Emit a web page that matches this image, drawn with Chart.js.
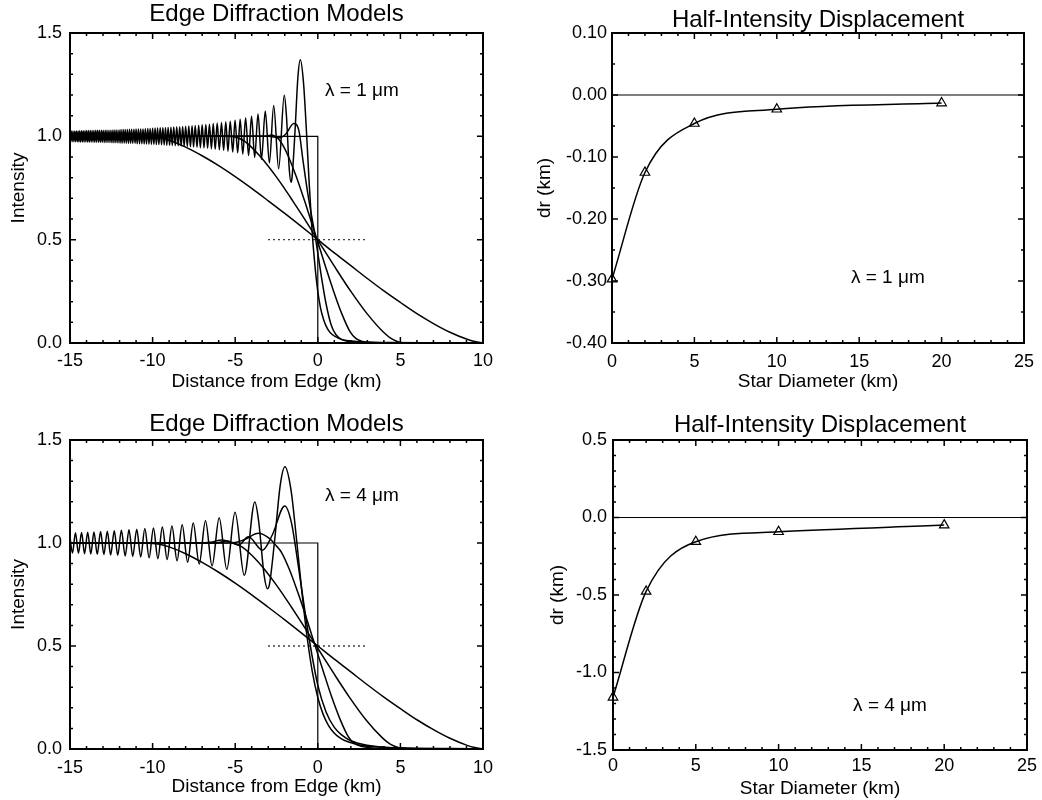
<!DOCTYPE html>
<html>
<head>
<meta charset="utf-8">
<title>Edge Diffraction Models</title>
<script src="https://cdn.jsdelivr.net/npm/chart.js@4.4.0/dist/chart.umd.min.js"></script>
<style>
  body { margin: 0; background: #fff; }
  #wrap { position: relative; width: 1042px; height: 800px; }
  canvas { position: absolute; }
</style>
</head>
<body>
<div id="wrap">
  <canvas id="tl" width="520" height="400" style="left:0;top:0"></canvas>
  <canvas id="tr" width="522" height="400" style="left:520px;top:0"></canvas>
  <canvas id="bl" width="520" height="400" style="left:0;top:400px"></canvas>
  <canvas id="br" width="522" height="400" style="left:520px;top:400px"></canvas>
</div>
<script>
// ---- tick labels ----
var edgeTicks = ['-15', '-10', '-5', '0', '5', '10'];
var intensityTicks = ['0.0', '0.5', '1.0', '1.5'];
var diamTicks = ['0', '5', '10', '15', '20', '25'];
var dr1Ticks = ['-0.40', '-0.30', '-0.20', '-0.10', '0.00', '0.10'];
var dr4Ticks = ['-1.5', '-1.0', '-0.5', '0.0', '0.5'];

// ---- half-intensity displacement (right panels) ----
var starDiam = [0, 2, 5, 10, 20];
var dr1um = [-0.297, -0.125, -0.046, -0.023, -0.013];
var dr4um = [-1.16, -0.477, -0.156, -0.092, -0.049];
var zeroLine = [[0, 0], [25, 0]];

// ---- edge profiles, [distance km, intensity] ----
var geoStep = [[-15, 1], [0, 1], [0, 0], [10, 0]];
var halfLevel = [[-3, 0.5], [3, 0.5]];

// lambda = 1 um, point source
var point1um = [
  [-15.02,1.026],[-14.97,0.974],[-14.92,1.026],[-14.87,0.974],[-14.82,1.026],[-14.76,0.974],[-14.71,1.026],[-14.66,0.974],
  [-14.61,1.026],[-14.56,0.974],[-14.51,1.026],[-14.46,0.973],[-14.41,1.027],[-14.36,0.973],[-14.30,1.027],[-14.25,0.973],
  [-14.20,1.027],[-14.15,0.973],[-14.09,1.027],[-14.04,0.973],[-13.99,1.028],[-13.93,0.972],[-13.88,1.028],[-13.83,0.972],
  [-13.77,1.028],[-13.72,0.972],[-13.66,1.028],[-13.61,0.972],[-13.55,1.028],[-13.50,0.971],[-13.44,1.029],[-13.39,0.971],
  [-13.33,1.029],[-13.27,0.971],[-13.22,1.029],[-13.16,0.971],[-13.10,1.029],[-13.05,0.971],[-12.99,1.030],[-12.93,0.970],
  [-12.87,1.030],[-12.82,0.970],[-12.76,1.030],[-12.70,0.970],[-12.64,1.030],[-12.58,0.970],[-12.52,1.030],[-12.46,0.969],
  [-12.40,1.031],[-12.34,0.969],[-12.28,1.031],[-12.22,0.969],[-12.16,1.031],[-12.10,0.969],[-12.03,1.031],[-11.97,0.967],
  [-11.91,1.033],[-11.85,0.967],[-11.78,1.033],[-11.72,0.967],[-11.66,1.033],[-11.59,0.967],[-11.53,1.033],[-11.46,0.966],
  [-11.40,1.034],[-11.33,0.966],[-11.27,1.034],[-11.20,0.966],[-11.13,1.034],[-11.06,0.966],[-11.00,1.035],[-10.93,0.964],
  [-10.86,1.036],[-10.79,0.964],[-10.72,1.036],[-10.65,0.964],[-10.58,1.036],[-10.51,0.963],[-10.44,1.037],[-10.37,0.963],
  [-10.29,1.038],[-10.22,0.962],[-10.15,1.038],[-10.07,0.962],[-10.00,1.039],[-9.92,0.961],[-9.85,1.040],[-9.77,0.960],
  [-9.70,1.040],[-9.62,0.960],[-9.54,1.041],[-9.46,0.959],[-9.38,1.041],[-9.30,0.958],[-9.22,1.042],[-9.14,0.957],
  [-9.06,1.043],[-8.97,0.957],[-8.89,1.044],[-8.81,0.956],[-8.72,1.045],[-8.63,0.955],[-8.54,1.046],[-8.45,0.954],
  [-8.36,1.046],[-8.27,0.953],[-8.18,1.047],
  [-8.09,0.952],[-8.00,1.049],[-7.90,0.951],[-7.81,1.050],[-7.71,0.950],[-7.61,1.051],[-7.52,0.948],[-7.42,1.052],
  [-7.31,0.947],[-7.21,1.054],[-7.11,0.945],[-7.00,1.056],[-6.89,0.944],[-6.78,1.057],[-6.67,0.942],[-6.56,1.059],
  [-6.44,0.940],[-6.33,1.062],[-6.21,0.937],[-6.09,1.064],[-5.96,0.935],[-5.83,1.067],[-5.70,0.932],[-5.57,1.070],
  [-5.44,0.928],[-5.30,1.073],[-5.15,0.924],[-5.01,1.078],[-4.85,0.920],[-4.70,1.083],[-4.54,0.914],[-4.37,1.089],
  [-4.19,0.907],[-4.01,1.097],[-3.82,0.898],[-3.62,1.108],[-3.41,0.889],[-3.18,1.123],[-2.93,0.872],[-2.67,1.149],
  [-2.37,0.843],[-2.03,1.199],[-1.90,1.102],[-1.73,0.844],[-1.62,0.778],[-1.56,0.800],[-1.38,1.023],[-1.21,1.280],
  [-1.06,1.370],[-0.865,1.259],[-0.69,1.028],[-0.52,0.771],[-0.43,0.652],[-0.35,0.545],[-0.17,0.372],[0,0.25],
  [0.17,0.168],[0.35,0.114],[0.52,0.079],[0.69,0.056],[0.87,0.041],[1.30,0.021],[1.73,0.012],[2.6,0.006],
  [4.3,0.002],[10,0]
];
var d2_1um = [[-15,1.0],[-3.0,1.0],[-2.3,0.993],[-1.95,1.01],[-1.45,1.062],[-1.15,1.03],[-0.9,0.885],[-0.6,0.72],
  [-0.125,0.5],[0.2,0.33],[0.5,0.19],[0.8,0.09],[1.1,0.04],[1.5,0.015],[2.0,0.005],[3.0,0],[10,0]];
var d5_1um = [[-15,1.0],[-3.2,1.0],[-2.8,1.006],[-2.5,0.995],[-2.3,0.98],[-2.05,0.948],[-1.8,0.906],[-1.3,0.805],
  [-0.8,0.688],[-0.3,0.564],[-0.045,0.5],[0.45,0.374],[0.95,0.252],[1.45,0.142],[1.95,0.055],[2.3,0.022],
  [2.7,0.007],[3.2,0.002],[4,0],[10,0]];
var d10_1um = [[-15,1.0],[-5.6,1.0],[-5.0,0.997],[-4.52,0.981],[-4.02,0.948],[-3.52,0.906],[-3.02,0.858],[-2.52,0.805],
  [-2.02,0.748],[-1.52,0.688],[-1.02,0.627],[-0.52,0.564],[-0.02,0.5],[0.98,0.374],[1.98,0.252],[2.98,0.142],
  [3.98,0.052],[4.48,0.020],[5.0,0.003],[5.6,0],[10,0]];
var d20_1um = [[-15,1.0],[-10.5,1.0],[-10,0.998],[-9.5,0.993],[-9,0.981],[-8,0.948],[-7,0.906],[-6,0.858],[-5,0.805],
  [-4,0.748],[-3,0.688],[-2,0.627],[-1,0.564],[0,0.5],[1,0.436],[2,0.374],[3,0.312],[4,0.252],[5,0.196],[6,0.142],
  [7,0.094],[8,0.052],[9,0.019],[9.5,0.007],[10,0]];

// lambda = 4 um, point source
var point4um = [
  [-15.03,1.049],[-14.85,0.951],[-14.67,1.050],[-14.49,0.950],[-14.30,1.051],[-14.12,0.948],[-13.93,1.052],[-13.74,0.947],
  [-13.55,1.054],[-13.35,0.945],[-13.15,1.056],[-12.95,0.944],[-12.74,1.057],[-12.54,0.942],[-12.32,1.059],[-12.11,0.940],
  [-11.89,1.062],[-11.66,0.937],[-11.43,1.064],[-11.20,0.935],[-10.96,1.067],[-10.72,0.932],[-10.47,1.070],[-10.21,0.928],
  [-9.95,1.073],[-9.68,0.924],[-9.41,1.078],[-9.12,0.920],[-8.83,1.083],[-8.52,0.914],[-8.21,1.089],[-7.88,0.907],
  [-7.54,1.097],[-7.18,0.898],[-6.80,1.108],[-6.40,0.889],[-5.97,1.123],[-5.51,0.872],[-5.01,1.149],[-4.45,0.843],
  [-3.81,1.199],[-3.575,1.102],[-3.25,0.844],[-3.04,0.778],[-2.925,0.800],[-2.60,1.023],[-2.275,1.280],[-1.99,1.370],
  [-1.625,1.259],[-1.30,1.028],[-0.975,0.771],[-0.81,0.652],[-0.65,0.545],[-0.325,0.372],[0,0.25],[0.325,0.168],
  [0.65,0.114],[0.975,0.079],[1.30,0.056],[1.625,0.041],[2.44,0.021],[3.25,0.012],[4.88,0.006],[8.1,0.002],[10,0.001]
];
var d2_4um = [[-15,1.0],[-6.2,1.0],[-5.5,1.01],[-4.8,0.99],[-4.2,1.03],[-3.35,0.965],[-2.75,1.04],[-2.0,1.18],
  [-1.6,1.10],[-1.2,0.90],[-0.8,0.68],[-0.45,0.5],[0,0.31],[0.5,0.18],[1.0,0.105],[1.5,0.065],[2.0,0.04],
  [3.0,0.018],[4.0,0.008],[5.0,0.004],[7,0.001],[10,0]];
var d5_4um = [[-15,1.0],[-6.0,1.0],[-5.0,1.003],[-4.4,1.018],[-3.6,1.047],[-2.9,1.02],[-2.5,0.985],[-2.2,0.955],
  [-1.7,0.868],[-1.2,0.758],[-0.7,0.638],[-0.156,0.5],[0.344,0.374],[0.844,0.252],[1.344,0.145],[1.844,0.06],
  [2.2,0.028],[2.7,0.012],[3.3,0.005],[4.5,0.002],[6,0],[10,0]];
var d10_4um = [[-15,1.0],[-7.2,1.0],[-6.5,1.004],[-5.8,1.015],[-5.1,1.0],[-4.59,0.981],[-4.09,0.948],[-3.59,0.906],
  [-3.09,0.858],[-2.59,0.805],[-2.09,0.748],[-1.59,0.688],[-1.09,0.627],[-0.59,0.564],[-0.09,0.5],[0.91,0.374],
  [1.91,0.252],[2.91,0.142],[3.91,0.054],[4.41,0.022],[4.91,0.006],[5.6,0.001],[7,0],[10,0]];
var d20_4um = [[-15,1.0],[-10.5,1.0],[-10,0.998],[-9.5,0.993],[-9,0.981],[-8,0.948],[-7,0.906],[-6,0.858],[-5,0.805],
  [-4,0.748],[-3,0.688],[-2,0.627],[-1,0.564],[0,0.5],[1,0.436],[2,0.374],[3,0.312],[4,0.252],[5,0.196],[6,0.142],
  [7,0.094],[8,0.052],[9,0.019],[9.5,0.007],[10,0]];

var fam = "'Liberation Sans', Arial, Helvetica, sans-serif";

function pts(arr) {
  return arr.map(function (p) { return { x: p[0], y: p[1] }; });
}

function zip(xs, ys) {
  return xs.map(function (x, i) { return { x: x, y: ys[i] }; });
}

function line(data, extra) {
  var ds = {
    data: data, showLine: true, fill: false,
    borderColor: '#000', borderWidth: 1.5,
    pointRadius: 0, pointHoverRadius: 0
  };
  for (var k in extra) ds[k] = extra[k];
  return ds;
}

function smooth(arr) {
  return line(pts(arr), { cubicInterpolationMode: 'monotone' });
}

// axis box and inward ticks on all four sides, plus the lambda note
var framePlugin = {
  id: 'frame',
  afterDatasetsDraw: function (chart, args, o) {
    var ctx = chart.ctx, a = chart.chartArea;
    var xs = chart.scales.x, ys = chart.scales.y;
    var i, n, v, px, len;
    ctx.save();
    ctx.strokeStyle = '#000';
    ctx.lineWidth = 1.5;
    ctx.beginPath();
    n = Math.round((xs.max - xs.min) / o.xMinor);
    for (i = 0; i <= n; i++) {
      v = xs.min + i * o.xMinor;
      len = i % o.xEvery === 0 ? 6 : 3;
      px = xs.getPixelForValue(v);
      ctx.moveTo(px, a.bottom); ctx.lineTo(px, a.bottom - len);
      ctx.moveTo(px, a.top); ctx.lineTo(px, a.top + len);
    }
    n = Math.round((ys.max - ys.min) / o.yMinor);
    for (i = 0; i <= n; i++) {
      v = ys.min + i * o.yMinor;
      len = i % o.yEvery === 0 ? 6 : 3;
      px = ys.getPixelForValue(v);
      ctx.moveTo(a.left, px); ctx.lineTo(a.left + len, px);
      ctx.moveTo(a.right, px); ctx.lineTo(a.right - len, px);
    }
    ctx.stroke();
    ctx.lineWidth = 2;
    ctx.strokeRect(a.left, a.top, a.right - a.left, a.bottom - a.top);
    ctx.fillStyle = '#000';
    ctx.font = '19px ' + fam;
    ctx.textBaseline = 'middle';
    ctx.textAlign = 'left';
    ctx.fillText(o.note, xs.getPixelForValue(o.noteX), ys.getPixelForValue(o.noteY));
    ctx.restore();
  }
};

function axis(labels, o) {
  var vals = labels.map(parseFloat);
  return {
    type: 'linear',
    position: o.pos,
    min: vals[0],
    max: vals[vals.length - 1],
    grid: { display: false, drawTicks: false },
    border: { display: false },
    afterBuildTicks: function (s) {
      s.ticks = vals.map(function (v) { return { value: v }; });
    },
    afterFit: function (s) {
      if (o.pos === 'bottom') s.height = o.size; else s.width = o.size;
    },
    ticks: {
      autoSkip: false, maxRotation: 0, padding: o.tickPad, color: '#000',
      font: { family: fam, size: 18 },
      callback: function (v, i) { return labels[i]; }
    },
    title: {
      display: true, text: o.title, color: '#000',
      font: { family: fam, size: 19 },
      padding: o.pos === 'bottom' ? { top: 0, bottom: o.titlePad } : { top: o.titlePad, bottom: 0 }
    }
  };
}

function panel(id, p) {
  new Chart(document.getElementById(id), {
    type: 'scatter',
    data: { datasets: p.datasets },
    options: {
      responsive: false,
      animation: false,
      devicePixelRatio: 1,
      events: [],
      layout: { padding: { left: 0, right: p.padRight, top: 0, bottom: 0 } },
      scales: { x: p.x, y: p.y },
      plugins: {
        legend: { display: false },
        tooltip: { enabled: false },
        title: {
          display: true, text: p.title, fullSize: false, color: '#000',
          font: { family: fam, size: 24, weight: 'normal', lineHeight: 1 },
          padding: p.titlePad
        },
        frame: p.frame
      }
    },
    plugins: [framePlugin]
  });
}

function edgeSets(step, point, d2, d5, d10, d20) {
  return [
    line(pts(step), { borderWidth: 1.2 }),
    line(pts(halfLevel), { borderWidth: 1.3, borderDash: [1.5, 3.5] }),
    smooth(point), smooth(d2), smooth(d5), smooth(d10), smooth(d20)
  ];
}

function drSets(vals) {
  return [
    line(pts(zeroLine), { borderWidth: 1.2 }),
    line(zip(starDiam, vals), {
      cubicInterpolationMode: 'monotone', clip: false,
      pointStyle: 'triangle', pointRadius: 5.5, pointBorderWidth: 1.2,
      pointBorderColor: '#000', pointBackgroundColor: 'rgba(0,0,0,0)'
    })
  ];
}

panel('tl', {
  title: 'Edge Diffraction Models', titlePad: { top: 2, bottom: 7 }, padRight: 37,
  datasets: edgeSets(geoStep, point1um, d2_1um, d5_1um, d10_1um, d20_1um),
  x: axis(edgeTicks, { pos: 'bottom', size: 57, tickPad: 7, title: 'Distance from Edge (km)', titlePad: 7 }),
  y: axis(intensityTicks, { pos: 'left', size: 70, tickPad: 8, title: 'Intensity', titlePad: 7.3 }),
  frame: { xMinor: 1, xEvery: 5, yMinor: 0.1, yEvery: 5, note: 'λ = 1 μm', noteX: 0.44, noteY: 1.22 }
});

panel('tr', {
  title: 'Half-Intensity Displacement', titlePad: { top: 8.5, bottom: 0.5 }, padRight: 14,
  datasets: drSets(dr1um),
  x: axis(diamTicks, { pos: 'bottom', size: 57, tickPad: 8, title: 'Star Diameter (km)', titlePad: 7 }),
  y: axis(dr1Ticks, { pos: 'left', size: 92, tickPad: 5, title: 'dr (km)', titlePad: 13.6 }),
  frame: { xMinor: 1, xEvery: 5, yMinor: 0.05, yEvery: 2, note: 'λ = 1 μm', noteX: 14.5, noteY: -0.294 }
});

panel('bl', {
  title: 'Edge Diffraction Models', titlePad: { top: 12.5, bottom: 3.5 }, padRight: 37,
  datasets: edgeSets(geoStep, point4um, d2_4um, d5_4um, d10_4um, d20_4um),
  x: axis(edgeTicks, { pos: 'bottom', size: 51, tickPad: 8.5, title: 'Distance from Edge (km)', titlePad: 2 }),
  y: axis(intensityTicks, { pos: 'left', size: 70, tickPad: 8, title: 'Intensity', titlePad: 7.3 }),
  frame: { xMinor: 1, xEvery: 5, yMinor: 0.1, yEvery: 5, note: 'λ = 4 μm', noteX: 0.44, noteY: 1.228 }
});

panel('br', {
  title: 'Half-Intensity Displacement', titlePad: { top: 13.3, bottom: 2.7 }, padRight: 14,
  datasets: drSets(dr4um),
  x: axis(diamTicks, { pos: 'bottom', size: 50, tickPad: 5, title: 'Star Diameter (km)', titlePad: 0.3 }),
  y: axis(dr4Ticks, { pos: 'left', size: 93, tickPad: 6, title: 'dr (km)', titlePad: 26.6 }),
  frame: { xMinor: 1, xEvery: 5, yMinor: 0.1, yEvery: 5, note: 'λ = 4 μm', noteX: 14.5, noteY: -1.213 }
});
</script>
</body>
</html>
